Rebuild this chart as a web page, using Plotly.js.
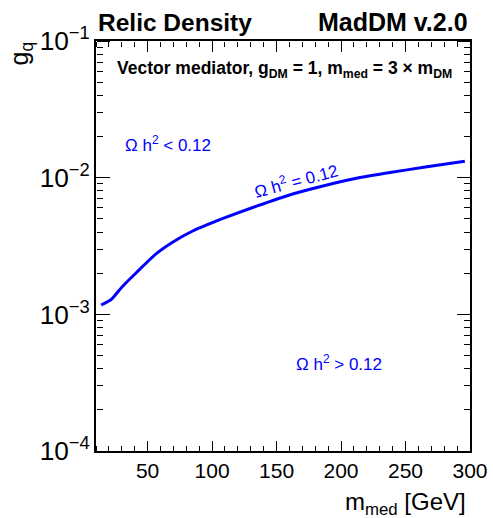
<!DOCTYPE html>
<html>
<head>
<meta charset="utf-8">
<script src="https://cdn.plot.ly/plotly-3.0.1.min.js"></script>
</head>
<body style="margin:0">
<div id="chart"></div>
<script>
// Relic density curve (Omega h^2 = 0.12)
const mMed = [14, 22, 30, 42, 57, 70, 85, 109, 135, 160, 186, 212, 238, 264, 296];
const gq   = [1.17e-3, 1.29e-3, 1.58e-3, 2.05e-3, 2.79e-3, 3.40e-3, 4.07e-3, 5.05e-3, 6.21e-3, 7.47e-3, 8.69e-3, 9.89e-3, 1.09e-2, 1.19e-2, 1.32e-2];

const xRange = [10, 300];
const xMajorStep = 50;
const xMinorStep = 10;
const yLogRange = [-4, -1];

const FONT = 'Liberation Sans, Arial, Helvetica, sans-serif';
const BLUE = '#0000ff';
const CLEAR = 'rgba(0,0,0,0)';

const traces = [{
  x: mMed, y: gq, type: 'scatter', mode: 'lines',
  line: {color: BLUE, width: 3, shape: 'spline', smoothing: 0.6}
}];
// invisible helper traces so the tick-only overlay axes are drawn
[2, 3, 4, 5].forEach(n => traces.push({
  x: [mMed[0]], y: [gq[0]], xaxis: 'x' + n, yaxis: 'y' + n, type: 'scatter', mode: 'markers',
  marker: {opacity: 0}
}));

function xTickAxis(pos, side, step, len) {
  return {overlaying: 'x', anchor: 'free', position: pos, side: side, range: xRange, tick0: 0, dtick: step,
    ticks: 'outside', ticklen: len, tickwidth: 1, tickcolor: '#000', showticklabels: false,
    showline: false, gridcolor: CLEAR, zeroline: false};
}
function yTickAxis(pos, side, step, len) {
  return {overlaying: 'y', anchor: 'free', position: pos, side: side, type: 'log', range: yLogRange, dtick: step,
    ticks: 'outside', ticklen: len, tickwidth: 1, tickcolor: '#000', showticklabels: false,
    showline: false, gridcolor: CLEAR, zeroline: false};
}

const layout = {
  width: 493, height: 518,
  margin: {l: 96, r: 23, t: 41, b: 67},
  showlegend: false,
  font: {family: FONT, size: 21, color: '#000'},
  xaxis: {
    range: xRange, tick0: 0, dtick: xMajorStep,
    ticks: 'inside', ticklen: 10, tickcolor: '#000',
    showline: true, linewidth: 2, linecolor: '#000', mirror: 'ticks',
    gridcolor: CLEAR
  },
  yaxis: {
    type: 'log', range: yLogRange, dtick: 1, exponentformat: 'power',
    ticks: 'inside', ticklen: 13, tickcolor: '#000',
    showline: true, linewidth: 2, linecolor: '#000', mirror: 'ticks',
    gridcolor: CLEAR
  },
  xaxis2: xTickAxis(0, 'top', xMajorStep, 10),
  xaxis3: xTickAxis(0, 'top', xMinorStep, 5),
  xaxis4: xTickAxis(1, 'bottom', xMajorStep, 10),
  xaxis5: xTickAxis(1, 'bottom', xMinorStep, 5),
  yaxis2: yTickAxis(0, 'right', 1, 13),
  yaxis3: yTickAxis(0, 'right', 'D1', 6),
  yaxis4: yTickAxis(1, 'left', 1, 13),
  yaxis5: yTickAxis(1, 'left', 'D1', 6),
  annotations: [
    {text: '<b>Relic Density</b>', xref: 'paper', yref: 'paper', x: 0, y: 1.046, xanchor: 'left', yanchor: 'middle', showarrow: false, font: {size: 24.5, family: FONT, color: '#000'}},
    {text: '<b>MadDM v.2.0</b>', xref: 'paper', yref: 'paper', x: 1, y: 1.046, xanchor: 'right', yanchor: 'middle', showarrow: false, font: {size: 25, family: FONT, color: '#000'}},
    {text: '<b>Vector mediator, g<sub>DM</sub> = 1, m<sub>med</sub> = 3 \u00d7 m<sub>DM</sub></b>', xref: 'paper', yref: 'paper', x: 0.503, y: 0.93, xanchor: 'center', yanchor: 'middle', showarrow: false, font: {size: 17.5, family: FONT, color: '#000'}},
    {text: '\u03a9 h<sup>2</sup> < 0.12', xref: 'paper', yref: 'paper', x: 0.192, y: 0.75, xanchor: 'center', yanchor: 'middle', showarrow: false, font: {size: 17, family: FONT, color: BLUE}},
    {text: '\u03a9 h<sup>2</sup> = 0.12', xref: 'paper', yref: 'paper', x: 0.535, y: 0.66, xanchor: 'center', yanchor: 'middle', textangle: -15, showarrow: false, font: {size: 17, family: FONT, color: BLUE}},
    {text: '\u03a9 h<sup>2</sup> > 0.12', xref: 'paper', yref: 'paper', x: 0.65, y: 0.215, xanchor: 'center', yanchor: 'middle', showarrow: false, font: {size: 17, family: FONT, color: BLUE}},
    {text: 'g<sub>q</sub>', xref: 'paper', yref: 'paper', x: -0.2, y: 0.97, xanchor: 'center', yanchor: 'middle', textangle: -90, showarrow: false, font: {size: 25, family: FONT, color: '#000'}},
    {text: 'm<sub>med</sub> [GeV]', xref: 'paper', yref: 'paper', x: 0.995, y: -0.127, xanchor: 'right', yanchor: 'middle', showarrow: false, font: {size: 24, family: FONT, color: '#000'}}
  ]
};

Plotly.newPlot('chart', traces, layout, {displayModeBar: false});
</script>
</body>
</html>
